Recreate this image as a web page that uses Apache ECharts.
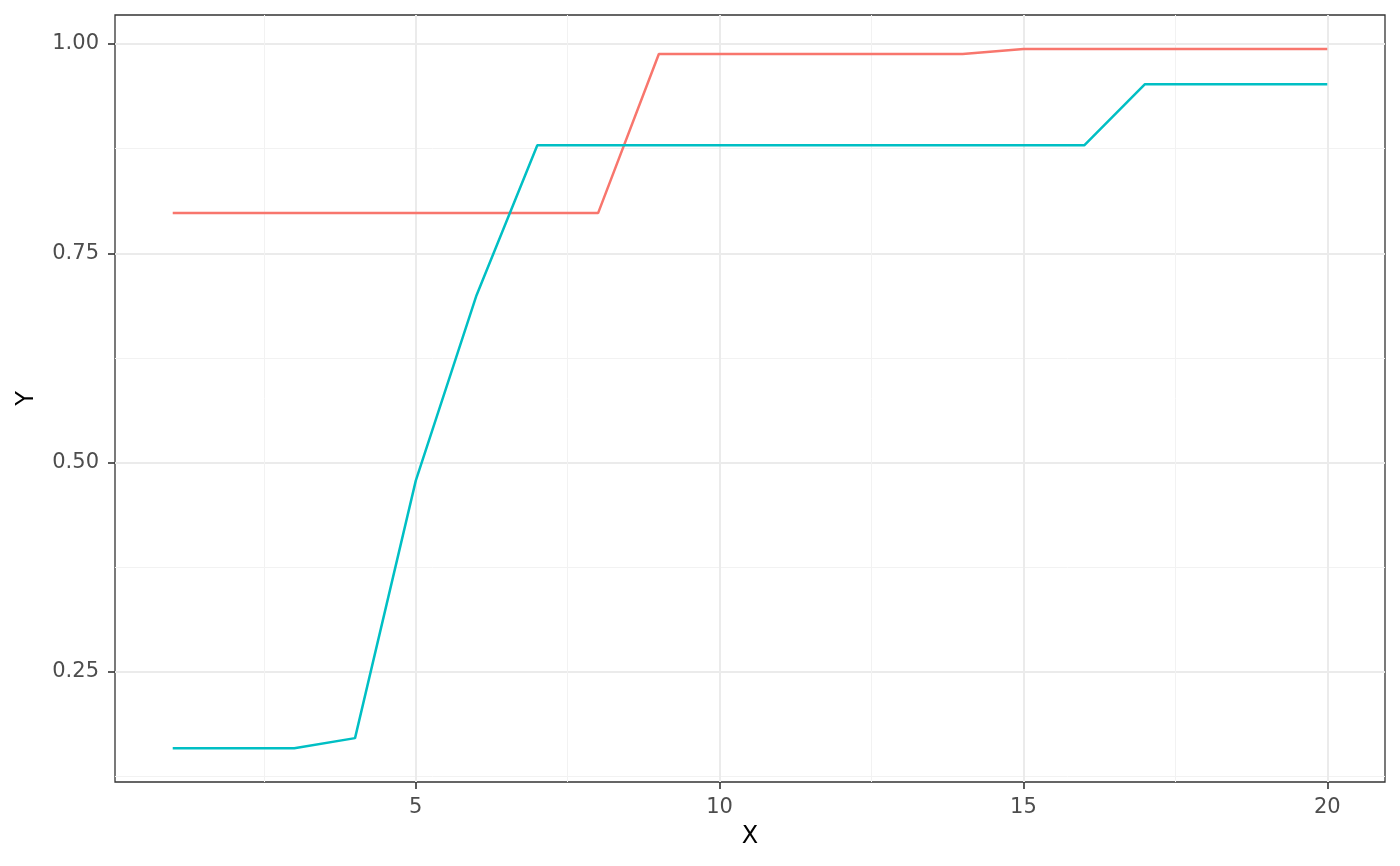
<!DOCTYPE html>
<html>
<head>
<meta charset="utf-8">
<script src="https://cdn.jsdelivr.net/npm/echarts@6/dist/echarts.min.js"></script>
<style>html,body{margin:0;padding:0;background:#fff}#c{width:1400px;height:866px}</style>
</head>
<body>
<div id="c"></div>
<script>
const xValues = [1,2,3,4,5,6,7,8,9,10,11,12,13,14,15,16,17,18,19,20];
const redValues = [0.798,0.798,0.798,0.798,0.798,0.798,0.798,0.798,0.988,0.988,0.988,0.988,0.988,0.988,0.994,0.994,0.994,0.994,0.994,0.994];
const cyanValues = [0.159,0.159,0.159,0.171,0.4785,0.70,0.879,0.879,0.879,0.879,0.879,0.879,0.879,0.879,0.879,0.879,0.952,0.952,0.952,0.952];
const xTicks = [5,10,15,20];
const xMinor = [2.5,7.5,12.5,17.5];
const yTicks = [0.25,0.5,0.75,1.0];
const yMinor = [0.125,0.375,0.625,0.875];

const xMin = 0.05, xMax = 20.95;
const yMin = 0.1186, yMax = 1.0346;
const font = 'DejaVu Sans';

const chart = echarts.init(document.getElementById('c'), null, {renderer:'canvas'});
chart.setOption({
  animation:false,
  grid: {left:115, right:15, top:15, bottom:84, show:true, borderColor:'#333333', borderWidth:1.3, backgroundColor:'transparent'},
  xAxis: [{
    type:'value', min:xMin, max:xMax,
    name:'X', nameLocation:'middle', nameGap:43,
    nameTextStyle:{color:'#000', fontSize:24, fontFamily:font},
    axisLine:{show:false},
    axisTick:{show:true, length:7, lineStyle:{color:'#333', width:1.6}, customValues:xTicks},
    axisLabel:{color:'#4D4D4D', fontSize:21, fontFamily:font, margin:15, customValues:xTicks, formatter:v=>String(v)},
    splitLine:{show:true, lineStyle:{color:'#EBEBEB', width:2}}
  },{
    type:'value', min:xMin, max:xMax, position:'bottom',
    axisLine:{show:false},
    axisTick:{show:false, customValues:xMinor},
    axisLabel:{show:false, customValues:xMinor},
    splitLine:{show:true, lineStyle:{color:'#F2F2F2', width:1}}
  }],
  yAxis: [{
    type:'value', min:yMin, max:yMax,
    name:'Y', nameLocation:'middle', nameGap:76,
    nameTextStyle:{color:'#000', fontSize:24, fontFamily:font},
    axisLine:{show:false},
    axisTick:{show:true, length:7, lineStyle:{color:'#333', width:1.6}, customValues:yTicks},
    axisLabel:{color:'#4D4D4D', fontSize:21, fontFamily:font, margin:16, customValues:yTicks, formatter:v=>v.toFixed(2)},
    splitLine:{show:true, lineStyle:{color:'#EBEBEB', width:2}}
  },{
    type:'value', min:yMin, max:yMax, position:'left',
    axisLine:{show:false},
    axisTick:{show:false, customValues:yMinor},
    axisLabel:{show:false, customValues:yMinor},
    splitLine:{show:true, lineStyle:{color:'#F2F2F2', width:1}}
  }],
  series: [{
    type:'line', name:'a', showSymbol:false, symbol:'none',
    data: xValues.map((x,i)=>[x, redValues[i]]),
    lineStyle:{color:'#F8766D', width:2.5}, itemStyle:{color:'#F8766D'}
  },{
    type:'line', name:'b', showSymbol:false, symbol:'none',
    data: xValues.map((x,i)=>[x, cyanValues[i]]),
    lineStyle:{color:'#00BFC4', width:2.5}, itemStyle:{color:'#00BFC4'}
  }]
});
</script>
</body>
</html>
